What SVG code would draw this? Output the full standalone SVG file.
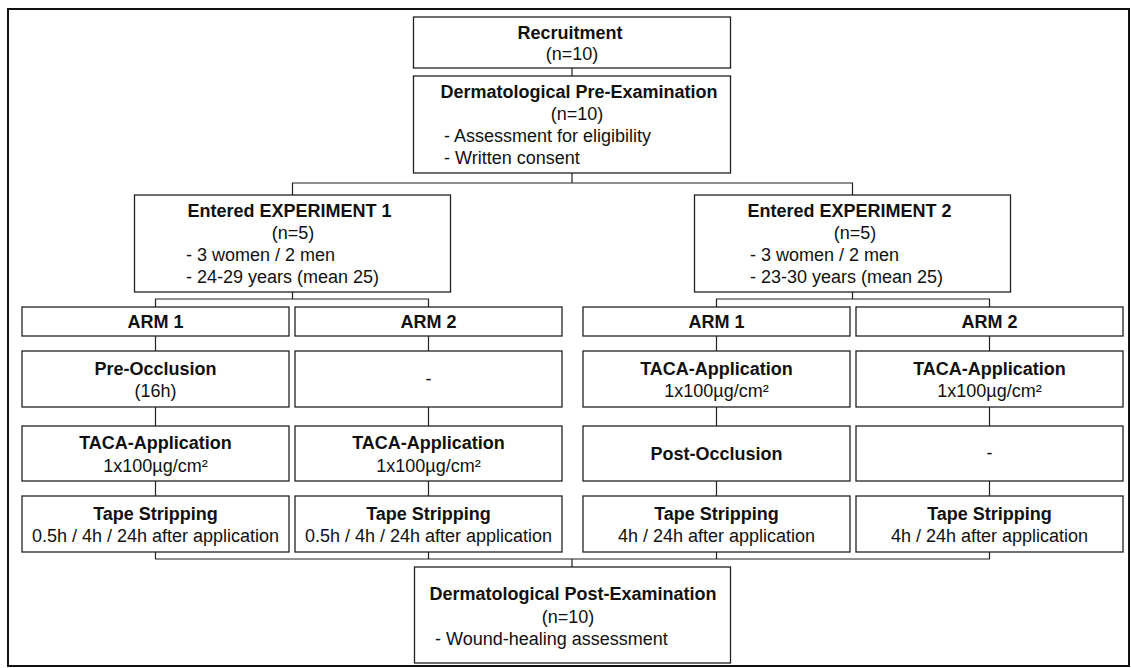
<svg xmlns="http://www.w3.org/2000/svg" width="1131" height="668" viewBox="0 0 1131 668">
<style>
.box{fill:#fff;stroke:#222;stroke-width:1.3}
.ln{fill:none;stroke:#222;stroke-width:1.2}
text{font-family:"Liberation Sans",Arial,sans-serif;font-size:18px;fill:#111}
.b{font-weight:bold}
.c{text-anchor:middle}
</style>
<rect x="0" y="0" width="1131" height="668" fill="#fff"/>
<rect id="frame" x="8" y="9" width="1121" height="657" fill="none" stroke="#111" stroke-width="2"/>
<g id="connectors" class="ln">
<path d="M572,68V76"/>
<path d="M572,173V183M292.5,195V183H852.5V195"/>
<path d="M292.5,292V299M155.5,307V299H428.5V307"/>
<path d="M852.5,292V299M716.5,307V299H989.5V307"/>
<path d="M155.5,336V351M155.5,407V426M155.5,481V496"/>
<path d="M428.5,336V351M428.5,407V426M428.5,481V496"/>
<path d="M716.5,336V351M716.5,407V426M716.5,481V496"/>
<path d="M989.5,336V351M989.5,407V426M989.5,481V496"/>
<path d="M155.5,552V559H989.5V552M428.5,552V559M716.5,552V559M572,559V567"/>
</g>
<g id="recruitment">
<rect class="box" x="413.5" y="17" width="317" height="51"/>
<text class="b c" x="570" y="39">Recruitment</text>
<text class="c" x="572" y="60">(n=10)</text>
</g>
<g id="pre-exam">
<rect class="box" x="413.5" y="76" width="317" height="97"/>
<text class="b c" x="579" y="98">Dermatological Pre-Examination</text>
<text class="c" x="577" y="120">(n=10)</text>
<text x="444" y="142">- Assessment for eligibility</text>
<text x="444" y="164">- Written consent</text>
</g>
<g id="exp1">
<rect class="box" x="134.5" y="195" width="316" height="97"/>
<text class="b c" x="289.5" y="217">Entered EXPERIMENT 1</text>
<text class="c" x="293" y="239">(n=5)</text>
<text x="186" y="261">- 3 women / 2 men</text>
<text x="186" y="283">- 24-29 years (mean 25)</text>
</g>
<g id="exp2">
<rect class="box" x="694.5" y="195" width="316" height="97"/>
<text class="b c" x="849.5" y="217">Entered EXPERIMENT 2</text>
<text class="c" x="855" y="239">(n=5)</text>
<text x="750" y="261">- 3 women / 2 men</text>
<text x="750" y="283">- 23-30 years (mean 25)</text>
</g>
<g id="e1-arm1">
<rect class="box" x="22" y="307" width="267" height="29"/>
<text class="b c" x="155.5" y="328">ARM 1</text>
</g>
<g id="e1-arm2">
<rect class="box" x="295" y="307" width="267" height="29"/>
<text class="b c" x="428.5" y="328">ARM 2</text>
</g>
<g id="e2-arm1">
<rect class="box" x="583" y="307" width="267" height="29"/>
<text class="b c" x="716.5" y="328">ARM 1</text>
</g>
<g id="e2-arm2">
<rect class="box" x="856" y="307" width="267" height="29"/>
<text class="b c" x="989.5" y="328">ARM 2</text>
</g>
<g id="e1-a1-preocc">
<rect class="box" x="22" y="351" width="267" height="56"/>
<text class="b c" x="155.5" y="375">Pre-Occlusion</text>
<text class="c" x="155.5" y="397">(16h)</text>
</g>
<g id="e1-a2-none">
<rect class="box" x="295" y="351" width="267" height="56"/>
<text class="c" x="428.5" y="385">-</text>
</g>
<g id="e2-a1-taca">
<rect class="box" x="583" y="351" width="267" height="56"/>
<text class="b c" x="716.5" y="375">TACA-Application</text>
<text class="c" x="716.5" y="397">1x100µg/cm²</text>
</g>
<g id="e2-a2-taca">
<rect class="box" x="856" y="351" width="267" height="56"/>
<text class="b c" x="989.5" y="375">TACA-Application</text>
<text class="c" x="989.5" y="397">1x100µg/cm²</text>
</g>
<g id="e1-a1-taca">
<rect class="box" x="22" y="426" width="267" height="55"/>
<text class="b c" x="155.5" y="449">TACA-Application</text>
<text class="c" x="155.5" y="472">1x100µg/cm²</text>
</g>
<g id="e1-a2-taca">
<rect class="box" x="295" y="426" width="267" height="55"/>
<text class="b c" x="428.5" y="449">TACA-Application</text>
<text class="c" x="428.5" y="472">1x100µg/cm²</text>
</g>
<g id="e2-a1-postocc">
<rect class="box" x="583" y="426" width="267" height="55"/>
<text class="b c" x="716.5" y="460">Post-Occlusion</text>
</g>
<g id="e2-a2-none">
<rect class="box" x="856" y="426" width="267" height="55"/>
<text class="c" x="989.5" y="459">-</text>
</g>
<g id="e1-a1-tape">
<rect class="box" x="22" y="496" width="267" height="56"/>
<text class="b c" x="155.5" y="520">Tape Stripping</text>
<text class="c" x="155.5" y="542">0.5h / 4h / 24h after application</text>
</g>
<g id="e1-a2-tape">
<rect class="box" x="295" y="496" width="267" height="56"/>
<text class="b c" x="428.5" y="520">Tape Stripping</text>
<text class="c" x="428.5" y="542">0.5h / 4h / 24h after application</text>
</g>
<g id="e2-a1-tape">
<rect class="box" x="583" y="496" width="267" height="56"/>
<text class="b c" x="716.5" y="520">Tape Stripping</text>
<text class="c" x="716.5" y="542">4h / 24h after application</text>
</g>
<g id="e2-a2-tape">
<rect class="box" x="856" y="496" width="267" height="56"/>
<text class="b c" x="989.5" y="520">Tape Stripping</text>
<text class="c" x="989.5" y="542">4h / 24h after application</text>
</g>
<g id="post-exam">
<rect class="box" x="414.5" y="567" width="316" height="96"/>
<text class="b c" x="573" y="600">Dermatological Post-Examination</text>
<text class="c" x="568" y="623">(n=10)</text>
<text x="435" y="645">- Wound-healing assessment</text>
</g>
</svg>
